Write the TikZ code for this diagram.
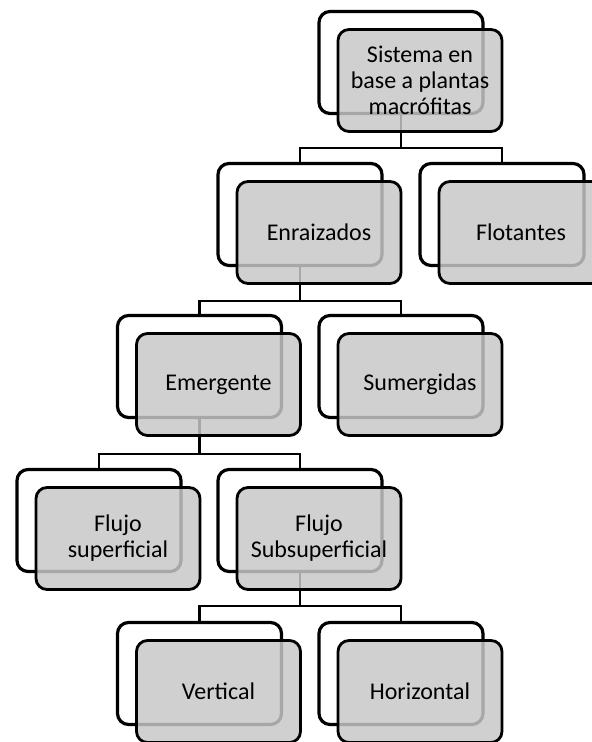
\documentclass[tikz,border=0pt]{standalone}
\usepackage{fontspec}
\setmainfont{Carlito}
\usetikzlibrary{positioning}
\definecolor{boxgray}{RGB}{199,199,199}

\begin{document}
\begin{tikzpicture}[x=0.5pt,y=0.5pt,
  backbox/.style={draw=black,line width=1.6pt,fill=white,rounded corners=5.5pt,
    minimum width=82pt,minimum height=51pt,inner sep=0pt},
  frontbox/.style={draw=black,line width=1.4pt,fill=boxgray,fill opacity=0.84,text opacity=1,
    rounded corners=5.5pt,minimum width=82pt,minimum height=51pt,inner sep=0pt,
    align=center,font=\fontsize{12}{13}\selectfont,xshift=9.5pt,yshift=-9pt},
  link/.style={line width=1.1pt}]

\useasboundingbox (0,0) rectangle (592,742);

\node[backbox] (root) at (401,679.5) {};
\node[backbox] (enr) at (300,527.5) {};
\node[backbox] (flo) at (502,527.5) {};
\node[backbox] (eme) at (199.5,375.5) {};
\node[backbox] (sum) at (401,375.5) {};
\node[backbox] (fsup) at (99,221.5) {};
\node[backbox] (fsub) at (300,221.5) {};
\node[backbox] (ver) at (199.5,68.5) {};
\node[backbox] (hor) at (401,68.5) {};

\draw[link] (root.south) -- ++(0,-33) -| (enr.north);
\draw[link] (root.south) -- ++(0,-33) -| (flo.north);
\draw[link] (enr.south) -- ++(0,-34) -| (eme.north);
\draw[link] (enr.south) -- ++(0,-34) -| (sum.north);
\draw[link] (eme.south) -- ++(0,-35) -| (fsup.north);
\draw[link] (eme.south) -- ++(0,-35) -| (fsub.north);
\draw[link] (fsub.south) -- ++(0,-33) -| (ver.north);
\draw[link] (fsub.south) -- ++(0,-33) -| (hor.north);

\node[frontbox] (rootF) at (root) {Sistema en\\base a plantas\\macrófitas};
\node[frontbox] (enrF) at (enr) {Enraizados};
\node[frontbox] (floF) at (flo) {Flotantes};
\node[frontbox] (emeF) at (eme) {Emergente};
\node[frontbox] (sumF) at (sum) {Sumergidas};
\node[frontbox] (fsupF) at (fsup) {Flujo\\superficial};
\node[frontbox] (fsubF) at (fsub) {Flujo\\Subsuperficial};
\node[frontbox] (verF) at (ver) {Vertical};
\node[frontbox] (horF) at (hor) {Horizontal};

\end{tikzpicture}
\end{document}
